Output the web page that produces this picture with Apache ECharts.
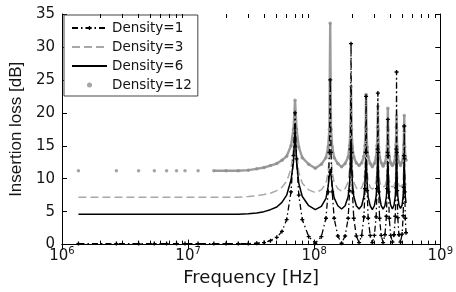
<!DOCTYPE html>
<html>
<head>
<meta charset="utf-8">
<script src="https://cdn.jsdelivr.net/npm/echarts@6/dist/echarts.min.js"></script>
<style>
html, body { margin: 0; padding: 0; background: #fff; }
#chart { width: 456px; height: 292px; }
</style>
</head>
<body>
<div id="chart"></div>
<script>
// frequency grid, MHz
const freqMHz = [1.35, 2.7, 4.05, 5.4, 6.75, 8.1, 9.45, 12, 16, 20,
    25, 30, 35, 40, 45, 50.5, 55.5, 60.5, 65.5, 68.5,
    70.5, 72.5, 75.5, 80.5, 90.5, 102,
    114, 124, 129, 132, 134, 136, 139, 144, 154, 165,
    176, 186, 191, 194, 196, 198, 201, 206, 216, 227,
    238, 248, 253, 256, 258, 260, 263, 268, 278, 289,
    300, 310, 315, 318, 320, 322, 325, 330, 340, 352,
    364, 374, 379, 382, 384, 386, 389, 394, 404, 417,
    430, 440, 445, 448, 450, 452, 455, 460, 470, 484,
    498, 508, 513, 516, 518, 520, 523, 528, 535];

// insertion loss, dB
const density1 = [0.15, 0.15, 0.15, 0.15, 0.15, 0.15, 0.15, 0.15, 0.15, 0.15,
    0.15, 0.15, 0.2, 0.3, 0.6, 1.1, 2.0, 3.8, 8.0, 13.5,
    20, 13, 7.5, 3.8, 1.2, 0.2,
    1.2, 4, 8, 14, 25, 14, 8, 4, 1.3, 0.2,
    1.3, 4, 8.2, 14.5, 30.5, 14, 8, 4, 1.3, 0.3,
    1.4, 4.2, 8.5, 14, 22.5, 14, 8.2, 4, 1.4, 0.3,
    1.4, 4.2, 8.5, 14.5, 23, 14, 8, 4, 1.4, 0.3,
    1.5, 4.3, 8.5, 14, 19, 13.5, 8, 4, 1.4, 0.4,
    1.5, 4.3, 8.6, 14.5, 26.2, 14, 8.2, 4.1, 1.5, 0.4,
    1.6, 4.4, 8.7, 13.5, 18, 13, 8, 4, 1.8];
const density3 = [7.2, 7.2, 7.2, 7.2, 7.2, 7.2, 7.2, 7.2, 7.2, 7.2,
    7.2, 7.3, 7.4, 7.6, 7.8, 8.2, 8.7, 9.6, 11.5, 14.5,
    19, 14, 11, 9.3, 8.3, 7.9,
    8.3, 9.3, 11, 13.5, 15.5, 13.5, 11, 9.4, 8.5, 8.1,
    8.5, 9.5, 11.5, 14.5, 18, 14, 11.2, 9.5, 8.6, 8.3,
    8.6, 9.6, 11.4, 14, 16, 13.8, 11.2, 9.6, 8.7, 8.4,
    8.7, 9.7, 11.5, 14.2, 17, 14, 11.3, 9.7, 8.8, 8.5,
    8.8, 9.8, 11.5, 13.8, 15, 13.6, 11.3, 9.7, 8.8, 8.5,
    8.8, 9.8, 11.6, 14.3, 17, 14, 11.4, 9.8, 8.9, 8.6,
    8.9, 9.9, 11.7, 13.9, 15, 13.5, 11.3, 9.8, 9.0];
const density6 = [4.6, 4.6, 4.6, 4.6, 4.6, 4.6, 4.6, 4.6, 4.6, 4.6,
    4.6, 4.7, 4.8, 5.0, 5.3, 5.7, 6.4, 7.5, 9.8, 12.5,
    17.5, 12.5, 9.3, 7.3, 5.9, 5.3,
    5.8, 7.0, 8.8, 10.5, 11.5, 10.6, 8.8, 7.1, 5.9, 5.4,
    5.9, 7.3, 9.5, 12, 16, 12, 9.4, 7.3, 5.9, 5.4,
    5.9, 7.3, 9.4, 11.8, 13, 11.6, 9.3, 7.2, 5.9, 5.3,
    5.9, 7.3, 9.5, 12, 14, 11.8, 9.3, 7.3, 5.9, 5.4,
    5.9, 7.3, 9.4, 11.6, 12.5, 11.5, 9.3, 7.3, 6.0, 5.4,
    6.0, 7.4, 9.5, 12, 15, 11.8, 9.4, 7.4, 6.0, 5.5,
    6.0, 7.4, 9.5, 11.6, 12.5, 11.4, 9.3, 7.3, 6.3];
const density12 = [11.2, 11.2, 11.2, 11.2, 11.2, 11.2, 11.2, 11.2, 11.2, 11.2,
    11.2, 11.3, 11.5, 11.7, 12.0, 12.3, 12.8, 13.4, 15, 17.5,
    21.9, 17.5, 14.8, 13.2, 12.2, 11.6,
    12.2, 13.2, 14.8, 17.5, 33.6, 17.5, 14.8, 13.2, 12.3, 11.8,
    12.3, 13.3, 15, 18, 24, 17.5, 14.8, 13.3, 12.4, 12.0,
    12.4, 13.4, 15, 17.8, 22.8, 17.5, 14.8, 13.3, 12.3, 11.8,
    12.3, 13.3, 15, 17.8, 21, 17.4, 14.8, 13.3, 12.4, 11.9,
    12.4, 13.4, 15, 17.8, 20.7, 17.4, 14.8, 13.3, 12.4, 12.0,
    12.4, 13.4, 15.1, 17.8, 19.5, 17.3, 14.8, 13.4, 12.5, 12.0,
    12.5, 13.5, 15.1, 17.8, 19.6, 17.2, 14.8, 13.4, 12.8];

const seriesNames = ['Density=1', 'Density=3', 'Density=6', 'Density=12'];
const yTicks = [0, 5, 10, 15, 20, 25, 30, 35];

// minor log ticks 2..9 per decade
const minorTicks = [];
[1e6, 1e7, 1e8].forEach(d => {
    for (let k = 2; k <= 9; k++) minorTicks.push(d * k);
});

const toPairs = vals => freqMHz.map((f, i) => [f * 1e6, vals[i]]);
const plusSymbol = 'path://M2,0h2v2h2v2h-2v2h-2v-2h-2v-2h2z';
const txt = '#141414';
const yMin = yTicks[0];
const yMax = yTicks[yTicks.length - 1];

const chart = echarts.init(document.getElementById('chart'));
chart.setOption({
    animation: false,
    backgroundColor: '#fff',
    grid: { left: 62, right: 13, top: 14, bottom: 45 },
    legend: {
        data: [
            { name: seriesNames[0] },
            { name: seriesNames[1], itemStyle: { opacity: 0 } },
            { name: seriesNames[2], itemStyle: { opacity: 0 } },
            { name: seriesNames[3] }
        ],
        orient: 'vertical',
        left: 64,
        top: 15,
        padding: [6, 6, 4, 7],
        itemGap: 5,
        itemWidth: 35,
        itemHeight: 5,
        borderColor: '#444',
        borderWidth: 1,
        backgroundColor: '#fff',
        selectedMode: false,
        textStyle: { fontFamily: 'DejaVu Sans', fontSize: 13.5, color: txt }
    },
    xAxis: [{
        type: 'log',
        logBase: 10,
        min: 1e6,
        max: 1e9,
        name: 'Frequency [Hz]',
        nameLocation: 'middle',
        nameGap: 23,
        nameTextStyle: { fontFamily: 'DejaVu Sans', fontSize: 18, color: txt },
        axisLine: { lineStyle: { color: '#000', width: 1 } },
        axisTick: { inside: true, length: 5, lineStyle: { color: '#000' } },
        splitLine: { show: false },
        minorTick: { show: false },
        axisLabel: {
            margin: 2,
            color: txt,
            formatter: v => '{b|10}{s|' + Math.round(Math.log10(v)) + '}',
            rich: {
                b: { fontFamily: 'DejaVu Sans', fontSize: 15, lineHeight: 20, color: txt },
                s: { fontFamily: 'DejaVu Sans', fontSize: 10, lineHeight: 12, verticalAlign: 'top', color: txt }
            }
        }
    }, {
        type: 'log',
        logBase: 10,
        min: 1e6,
        max: 1e9,
        position: 'top',
        axisLine: { lineStyle: { color: '#000', width: 1 } },
        axisTick: { inside: true, length: 5, lineStyle: { color: '#000' } },
        axisLabel: { show: false },
        splitLine: { show: false }
    }],
    yAxis: [{
        type: 'value',
        min: yMin,
        max: yMax,
        interval: 5,
        name: 'Insertion loss [dB]',
        nameLocation: 'middle',
        nameGap: 30,
        nameTextStyle: { fontFamily: 'Liberation Sans', fontSize: 17, color: txt },
        axisLine: { show: true, lineStyle: { color: '#000', width: 1 } },
        axisTick: { show: true, inside: true, length: 5, lineStyle: { color: '#000' } },
        splitLine: { show: false },
        axisLabel: { margin: 7, fontFamily: 'DejaVu Sans', fontSize: 15, color: txt }
    }, {
        type: 'value',
        min: yMin,
        max: yMax,
        interval: 5,
        position: 'right',
        axisLine: { show: true, lineStyle: { color: '#000', width: 1 } },
        axisTick: { show: true, inside: true, length: 5, lineStyle: { color: '#000' } },
        axisLabel: { show: false },
        splitLine: { show: false }
    }],
    series: [
        {
            // connecting trace under the Density=12 markers
            type: 'line',
            data: toPairs(density12).slice(8),
            showSymbol: false,
            lineStyle: { color: '#9b9b9b', width: 2.4 },
            silent: true,
            z: 2
        },
        {
            name: 'Density=12',
            type: 'scatter',
            data: toPairs(density12),
            symbol: 'circle',
            symbolSize: 3.5,
            itemStyle: { color: '#8e8e8e' },
            z: 2
        },
        {
            name: 'Density=3',
            type: 'line',
            data: toPairs(density3),
            showSymbol: false,
            symbol: 'none',
            itemStyle: { color: '#a8a8a8' },
            lineStyle: { color: '#a8a8a8', width: 1.5, type: [8, 4] },
            z: 3
        },
        {
            name: 'Density=6',
            type: 'line',
            data: toPairs(density6),
            showSymbol: false,
            symbol: 'none',
            itemStyle: { color: '#000' },
            lineStyle: { color: '#000', width: 1.5 },
            z: 4
        },
        {
            name: 'Density=1',
            type: 'line',
            data: toPairs(density1),
            symbol: plusSymbol,
            symbolSize: 4,
            showSymbol: true,
            itemStyle: { color: '#000' },
            lineStyle: { color: '#000', width: 1.3, type: [6, 3, 1.5, 3] },
            z: 5
        },
        {
            // minor log ticks on bottom and top frame
            type: 'custom',
            data: minorTicks.map(v => [v, yMin]),
            silent: true,
            clip: false,
            z: 10,
            renderItem: (params, api) => {
                const b = api.coord([api.value(0), yMin]);
                const t = api.coord([api.value(0), yMax]);
                const x = Math.round(b[0]) + 0.5;
                return {
                    type: 'group',
                    children: [
                        { type: 'line', shape: { x1: x, y1: b[1], x2: x, y2: b[1] - 4 }, style: { stroke: '#000', lineWidth: 1 } },
                        { type: 'line', shape: { x1: x, y1: t[1], x2: x, y2: t[1] + 4 }, style: { stroke: '#000', lineWidth: 1 } }
                    ]
                };
            }
        }
    ]
});
</script>
</body>
</html>
